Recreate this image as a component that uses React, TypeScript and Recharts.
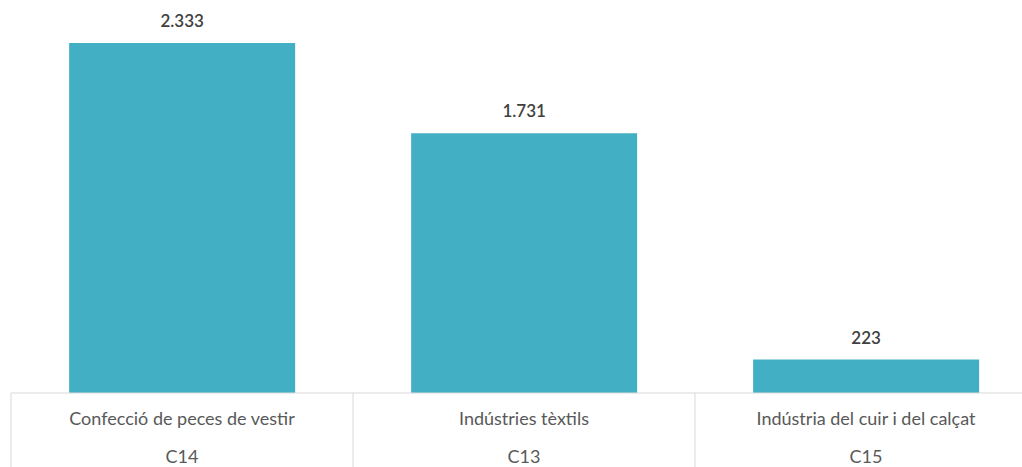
import { BarChart, Bar, XAxis, YAxis, LabelList } from "recharts";

const sectors = ["Confecció de peces de vestir", "Indústries tèxtils", "Indústria del cuir i del calçat"];
const codes = ["C14", "C13", "C15"];
const values = [2333, 1731, 223];

const data = sectors.map((name, i) => ({ name, code: codes[i], value: values[i] }));

const W = 1040;
const H = 467;
const M = { top: 3, right: 3, left: 11, bottom: 0 };
const band = (W - M.left - M.right) / sectors.length;
const FONT = "Lato, 'Open Sans', sans-serif";

const fmt = (v: number) => v.toLocaleString("de-DE");

function CatTick(props: any) {
    const { x, y, payload, index } = props;
    const axisY = y - 8; // tick size + margin
    const left = x - band / 2;
    const right = x + band / 2;
    return (
        <g>
            <line x1={left} y1={axisY} x2={left} y2={H} stroke="#d9d9d9" strokeWidth={1} />
            {index === sectors.length - 1 && (
                <line x1={right} y1={axisY} x2={right} y2={H} stroke="#d9d9d9" strokeWidth={1} />
            )}
            <text x={x} y={axisY + 32} textAnchor="middle" fill="#595959" fontSize={18} fontFamily={FONT}>
                {payload.value}
            </text>
            <text x={x} y={axisY + 70} textAnchor="middle" fill="#595959" fontSize={18} fontFamily={FONT}>
                {codes[index]}
            </text>
        </g>
    );
}

export default function App() {
    return (
        <div style={{ position: "absolute", top: 0, left: 0, width: 1022, height: H, overflow: "hidden", background: "#fff" }}>
            <BarChart width={W} height={H} data={data} margin={M} barCategoryGap="17%">
                <XAxis
                    dataKey="name"
                    axisLine={{ stroke: "#d9d9d9" }}
                    tickLine={false}
                    tick={<CatTick />}
                    height={H - 393}
                    interval={0}
                />
                <YAxis hide domain={[0, 2600]} />
                <Bar dataKey="value" fill="#42afc4" isAnimationActive={false}>
                    <LabelList
                        dataKey="value"
                        position="top"
                        offset={16}
                        formatter={(v: any) => fmt(Number(v))}
                        fill="#404040"
                        fontSize={17}
                        fontWeight={600}
                        fontFamily={FONT}
                    />
                </Bar>
            </BarChart>
        </div>
    );
}
